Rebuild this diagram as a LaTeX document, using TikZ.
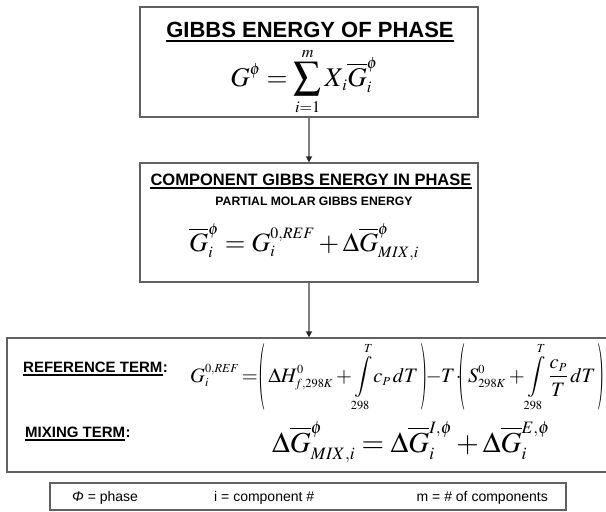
\documentclass[tikz,border=0pt]{standalone}
\usepackage{mathptmx}
\usepackage{graphicx}
\usepackage[no-math]{fontspec}
\setmainfont{Liberation Sans}
\usetikzlibrary{arrows.meta}
\renewcommand{\defaultscriptratio}{.6}
\renewcommand{\defaultscriptscriptratio}{.45}
\newcommand{\tpl}{\mathopen{\vcenter{\hbox{\scalebox{0.9}[3.25]{$($}}}}}
\newcommand{\tpr}{\mathclose{\vcenter{\hbox{\scalebox{0.9}[3.25]{$)$}}}}}
\newcommand{\bigsum}{\mathop{\vcenter{\hbox{\scalebox{1.45}{$\textstyle\sum$}}}}\limits}
\begin{document}
\begin{tikzpicture}[x=1pt,y=-1pt,
  box/.style={draw=black!62, line width=1.3pt, rectangle, inner sep=0pt},
  txt/.style={inner sep=0pt, anchor=base},
  lbl/.style={inner sep=0pt, anchor=base west, font=\bfseries\fontsize{15}{18}\selectfont},
  uline/.style={line width=1.8pt},
  flow/.style={draw=black!50, line width=1.5pt, -{Triangle[length=6pt,width=6pt,color=black!85]}}
]
\useasboundingbox (0,0) rectangle (606,512);
% boxes
\node[box, minimum width=338pt, minimum height=110pt] (b1) at (309,62) {};
\node[box, minimum width=338pt, minimum height=119pt] (b2) at (309,222.5) {};
\node[box, minimum width=605pt, minimum height=134pt] (b3) at (309.5,405) {};
\node[box, minimum width=516pt, minimum height=27pt] (b4) at (308,496.5) {};
% arrows
\draw[flow] (b1.south) -- (b2.north);
\draw[flow] (b2.south) -- (b2.south |- b3.north);
% box 1
\node[txt, font=\bfseries\fontsize{22}{26}\selectfont] (t1) at (310,37) {GIBBS ENERGY OF PHASE};
\draw[line width=2pt] ([yshift=-3.5pt]t1.base west) -- ([yshift=-3.5pt]t1.base east);
\node[txt, font=\fontsize{27}{32}\selectfont] (f1) at (304,86) {$\displaystyle G^{\phi}=\bigsum_{i=1}^{m}X_{\,i}\overline{G}_i^{\phi}$};
% box 2
\node[txt, font=\bfseries\fontsize{16.5}{20}\selectfont] (t2) at (311,185) {COMPONENT GIBBS ENERGY IN PHASE};
\draw[uline] ([yshift=-3pt]t2.base west) -- ([yshift=-3pt]t2.base east);
\node[txt, font=\bfseries\fontsize{12.2}{15}\selectfont] (s2) at (314,205) {PARTIAL MOLAR GIBBS ENERGY};
\node[txt, font=\fontsize{26.5}{30}\selectfont] (f2) at (304,251) {$\displaystyle \overline{G}_i^{\phi}=G_i^{0,REF}+\Delta\overline{G}_{MIX,i}^{\phi}$};
% box 3
\node[lbl] (r1) at (23,372) {REFERENCE TERM};
\node[lbl] (r1c) at (r1.base east) {:};
\draw[uline] ([yshift=-3pt]r1.base west) -- ([yshift=-3pt]r1.base east);
\node[txt, anchor=base west, font=\fontsize{20.5}{24}\selectfont] (f3) at (190,382) {$\displaystyle G_i^{0,REF}\mkern-2mu=\mkern-3mu\tpl\,\Delta H^{0}_{f,298K}+\int\limits_{298}^{T}\!c_P\,dT\,\tpr\mkern-4mu-\mkern-3mu T\mkern-2mu\cdot\mkern-5mu\tpl\,S^{0}_{298K}+\int\limits_{298}^{T}\frac{c_P}{T}\,dT\,\tpr$};
\node[lbl] (m1) at (25,437) {MIXING TERM};
\node[lbl] (m1c) at (m1.base east) {:};
\draw[uline] ([yshift=-3pt]m1.base west) -- ([yshift=-3pt]m1.base east);
\node[txt, anchor=base west, font=\fontsize{29}{32}\selectfont] (f4) at (272,452) {$\displaystyle \Delta\overline{G}_{MIX,i}^{\phi}=\Delta\overline{G}_i^{I,\phi}+\Delta\overline{G}_i^{E,\phi}$};
% legend
\node[txt, anchor=base west, font=\fontsize{14}{16}\selectfont] (l1) at (72,501) {\textit{Φ} = phase};
\node[txt, anchor=base west, font=\fontsize{14}{16}\selectfont] (l2) at (214,501) {i = component \#};
\node[txt, anchor=base east, font=\fontsize{14}{16}\selectfont] (l3) at (548,501) {m = \# of components};
\end{tikzpicture}
\end{document}
